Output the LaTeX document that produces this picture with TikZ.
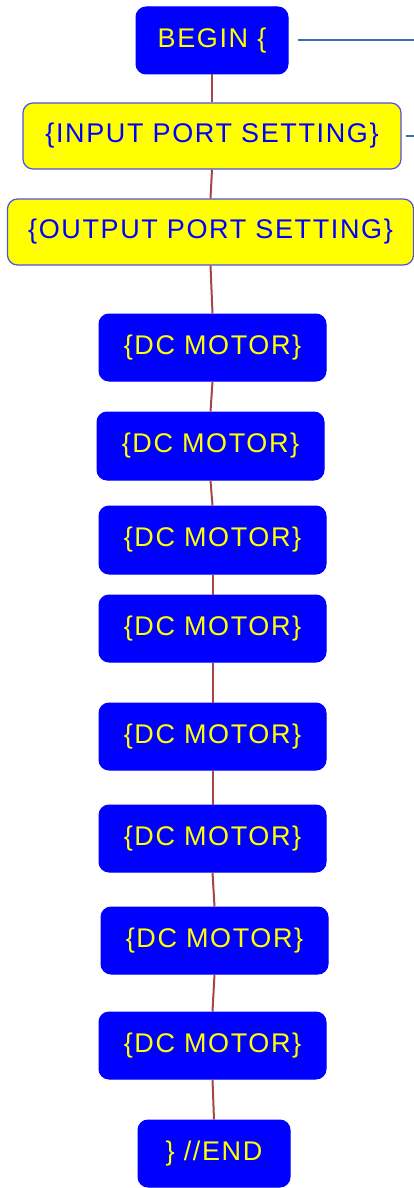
\documentclass[tikz,border=0pt]{standalone}
\usepackage{fontspec}
\setmainfont{Liberation Sans}[LetterSpace=6]
\definecolor{boxblue}{RGB}{0,0,255}
\definecolor{boxyellow}{RGB}{255,255,0}
\definecolor{edgeblue}{RGB}{80,80,230}
\definecolor{linkred}{RGB}{165,70,70}
\definecolor{sideblue}{RGB}{60,110,180}
\begin{document}
\begin{tikzpicture}[x=1pt,y=-1pt,
  bluebox/.style={draw=boxblue,fill=boxblue,text=boxyellow,rounded corners=10pt,line width=1pt,inner sep=0pt,font=\fontsize{27}{30}\selectfont},
  yellowbox/.style={draw=edgeblue,fill=boxyellow,text=boxblue,rounded corners=10pt,line width=1.2pt,inner sep=0pt,font=\fontsize{27}{30}\selectfont},
  link/.style={draw=linkred,line width=2pt},
  side/.style={draw=sideblue,line width=2pt}]
\useasboundingbox (0,0) rectangle (414,1188);
\node[bluebox,minimum width=152pt,minimum height=67pt] (begin) at (212,40.5) {BEGIN \{};
\node[yellowbox,minimum width=378pt,minimum height=66pt] (in) at (212,136) {\{INPUT PORT SETTING\}};
\node[yellowbox,minimum width=406pt,minimum height=66pt] (out) at (210.5,232) {\{OUTPUT PORT SETTING\}};
\node[bluebox,minimum width=227pt,minimum height=67pt] (m1) at (212.5,347.5) {\{DC MOTOR\}};
\node[bluebox,minimum width=227pt,minimum height=68pt] (m2) at (210.5,446) {\{DC MOTOR\}};
\node[bluebox,minimum width=227pt,minimum height=68pt] (m3) at (212.5,540) {\{DC MOTOR\}};
\node[bluebox,minimum width=227pt,minimum height=67pt] (m4) at (212.5,628.5) {\{DC MOTOR\}};
\node[bluebox,minimum width=227pt,minimum height=67pt] (m5) at (212.5,736.5) {\{DC MOTOR\}};
\node[bluebox,minimum width=227pt,minimum height=67pt] (m6) at (212.5,838.5) {\{DC MOTOR\}};
\node[bluebox,minimum width=227pt,minimum height=67pt] (m7) at (214.5,940.5) {\{DC MOTOR\}};
\node[bluebox,minimum width=227pt,minimum height=67pt] (m8) at (212.5,1045.5) {\{DC MOTOR\}};
\node[bluebox,minimum width=152pt,minimum height=67pt] (end) at (214,1153.5) {\} //END};
\coordinate (bR) at (414,40.5);
\coordinate (iR) at (414,136);
\path[link] (begin.south) -- (in.north);
\path[link] (in.south) -- (out.north);
\path[link] (out.south) -- (m1.north);
\path[link] (m1.south) -- (m2.north);
\path[link] (m2.south) -- (m3.north);
\path[link] (m3.south) -- (m4.north);
\path[link] (m4.south) -- (m5.north);
\path[link] (m5.south) -- (m6.north);
\path[link] (m6.south) -- (m7.north);
\path[link] (m7.south) -- (m8.north);
\path[link] (m8.south) -- (end.north);
\path[side] ([xshift=9pt]begin.east) -- (bR);
\path[side] ([xshift=4pt]in.east) -- (iR);
\end{tikzpicture}
\end{document}
